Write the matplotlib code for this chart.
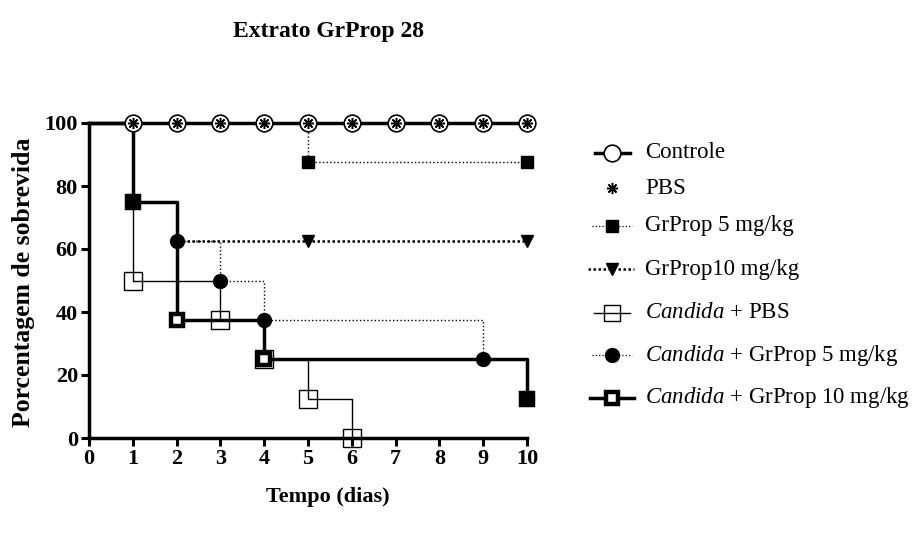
import matplotlib
matplotlib.use("Agg")
import matplotlib.pyplot as plt
from matplotlib.lines import Line2D

plt.rcParams['font.family'] = ['Liberation Serif', 'DejaVu Serif']
plt.rcParams['mathtext.fontset'] = 'custom'
plt.rcParams['mathtext.rm'] = 'Liberation Serif'
plt.rcParams['mathtext.it'] = 'Liberation Serif:italic'

# survival curves (tempo em dias, % de sobrevida)
controle_t = [0, 1, 2, 3, 4, 5, 6, 7, 8, 9, 10]
controle_s = [100, 100, 100, 100, 100, 100, 100, 100, 100, 100, 100]
pbs_t = [1, 2, 3, 4, 5, 6, 7, 8, 9, 10]
pbs_s = [100, 100, 100, 100, 100, 100, 100, 100, 100, 100]
gp5_t = [0, 5, 10]
gp5_s = [100, 87.5, 87.5]
gp10_t = [2, 5, 10]
gp10_s = [62.5, 62.5, 62.5]
cand_pbs_t = [0, 1, 3, 4, 5, 6]
cand_pbs_s = [100, 50, 37.5, 25, 12.5, 0]
cand_gp5_t = [0, 1, 2, 3, 4, 9, 10]
cand_gp5_s = [100, 75, 62.5, 50, 37.5, 25, 12.5]
cand_gp10_t = [0, 1, 2, 4, 10]
cand_gp10_s = [100, 75, 37.5, 25, 12.5]

labels = ['Controle', 'PBS', 'GrProp 5 mg/kg', 'GrProp10 mg/kg',
          r'$\mathit{Candida}$ + PBS', r'$\mathit{Candida}$ + GrProp 5 mg/kg',
          r'$\mathit{Candida}$ + GrProp 10 mg/kg']

W, H = 921, 536
fig = plt.figure(figsize=(W / 100, H / 100), dpi=100)
ax = fig.add_axes([89 / W, 1 - 438 / H, 438 / W, 315 / H])

ASTER = (8, 2, 0)
styles = {
    'controle': dict(ls='-', lw=2.5, marker='o', ms=12, mfc='white', mew=1.2),
    'pbs': dict(ls='none', lw=0, marker=ASTER, ms=8, mfc='black', mew=1.1),
    'gp5': dict(ls=':', lw=1.0, marker='s', ms=8.5, mfc='black', mew=1.0),
    'gp10': dict(ls=(0, (1, 1)), lw=1.8, marker='v', ms=8, mfc='black', mew=1.0),
    'cand_pbs': dict(ls='-', lw=1.0, marker='s', ms=13, mfc='none', mew=1.0),
    'cand_gp5': dict(ls=':', lw=1.0, marker='o', ms=10, mfc='black', mew=1.0),
    'cand_gp10': dict(ls='-', lw=2.5, marker='s', ms=8.5, mfc='white', mew=3.2),
}

def curve(t, s, st, z_line, z_mark, skip_first=True):
    ax.step(t, s, where='post', color='black', ls=st['ls'], lw=st['lw'],
            zorder=z_line, clip_on=False)
    k = 1 if skip_first else 0
    ax.plot(t[k:], s[k:], ls='none', marker=st['marker'], ms=st['ms'],
            mfc=st['mfc'], mec='black', mew=st['mew'], zorder=z_mark, clip_on=False)

# lines first, then markers; the circles sit above the thick squares
curve(cand_pbs_t, cand_pbs_s, styles['cand_pbs'], 3, 13)
curve(gp5_t, gp5_s, styles['gp5'], 4, 11)
curve(gp10_t, gp10_s, styles['gp10'], 4, 11, skip_first=True)
curve(cand_gp5_t, cand_gp5_s, styles['cand_gp5'], 5, 12)
curve(cand_gp10_t, cand_gp10_s, styles['cand_gp10'], 6, 10)
curve(controle_t, controle_s, styles['controle'], 7, 14)
ax.plot(pbs_t, pbs_s, ls='none', marker=ASTER, ms=8, mec='black', mew=1.1,
        zorder=15, clip_on=False)

ax.set_xlim(0, 10)
ax.set_ylim(0, 100)
ax.set_xticks(range(0, 11))
ax.set_yticks(range(0, 101, 20))
for sp in ['top', 'right']:
    ax.spines[sp].set_visible(False)
for sp in ['left', 'bottom']:
    ax.spines[sp].set_linewidth(2.5)
ax.tick_params(width=2.2, length=6, labelsize=16, pad=2)
for lbl in ax.get_xticklabels() + ax.get_yticklabels():
    lbl.set_fontweight('bold')

fig.text(328 / W, 1 - 497 / H, 'Tempo (dias)', ha='center', va='center',
         fontsize=16, fontweight='bold')
fig.text(24 / W, 1 - 282 / H, 'Porcentagem de sobrevida', ha='center', va='center',
         rotation=90, fontsize=18.5, fontweight='bold')
fig.text(328 / W, 1 - 31 / H, 'Extrato GrProp 28', ha='center', va='center',
         fontsize=17, fontweight='bold')

# legend drawn by hand so the rows sit at even spacing
keys = ['controle', 'pbs', 'gp5', 'gp10', 'cand_pbs', 'cand_gp5', 'cand_gp10']
rows_y = [153, 188, 226, 269, 313, 355, 398]
handle_span = {'controle': (595, 630), 'pbs': (612, 612), 'gp5': (592, 632),
               'gp10': (588, 634), 'cand_pbs': (594, 630), 'cand_gp5': (592, 632),
               'cand_gp10': (590, 634)}
for key, lab, y in zip(keys, labels, rows_y):
    st = styles[key]
    x0, x1 = handle_span[key]
    yf = 1 - y / H
    if st['ls'] != 'none':
        fig.add_artist(Line2D([x0 / W, x1 / W], [yf, yf], color='black',
                              ls=st['ls'], lw=st['lw'] if key not in ('gp5', 'cand_gp5') else 0.9))
    fig.add_artist(Line2D([612 / W], [yf], ls='none', marker=st['marker'],
                          ms=st['ms'] * (0.9 if key == 'cand_pbs' else 1.0),
                          mfc=st['mfc'], mec='black', mew=st['mew']))
    fig.text(645 / W, yf, lab, ha='left', va='center', fontsize=16.5)

fig.savefig('out.png', dpi=100)
